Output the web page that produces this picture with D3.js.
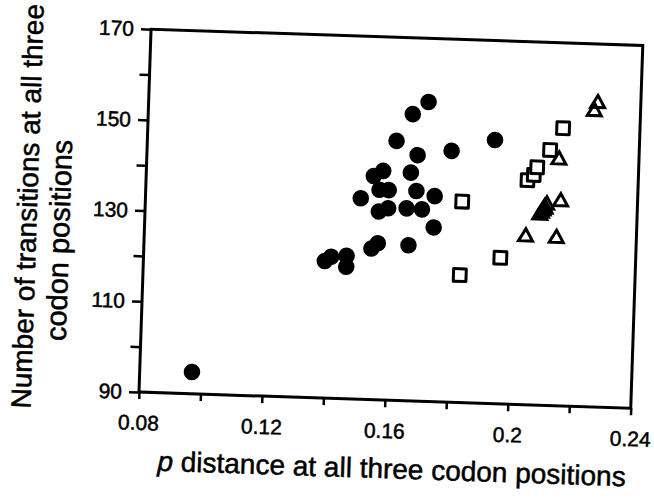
<!doctype html>
<html>
<head>
<script src="https://cdn.jsdelivr.net/npm/d3@7"></script>
<style>
  body { margin: 0; background: #fff; }
  text { font-family: Arial, "Liberation Sans", Helvetica, sans-serif; fill: #000; stroke: #000; stroke-width: 0.5px; }
</style>
</head>
<body>
<script>

// filled circles
var circleX = [0.097, 0.171, 0.166, 0.161, 0.168, 0.179, 0.193, 0.154, 0.157, 0.166,
               0.156, 0.159, 0.168, 0.174, 0.150, 0.156, 0.159, 0.165, 0.170, 0.174,
               0.154, 0.156, 0.166, 0.139, 0.141, 0.146, 0.146];
var circleY = [94.8, 156.0, 153.2, 147.2, 144.2, 145.4, 148.1, 139.3, 140.5, 140.3,
               136.3, 136.3, 136.3, 135.3, 134.3, 131.5, 132.3, 132.4, 132.3, 128.4,
               123.3, 124.5, 124.3, 120.2, 121.2, 121.5, 119.1];
// open squares
var squareX = [0.183, 0.183, 0.196, 0.204, 0.206, 0.207, 0.211, 0.215];
var squareY = [134.3, 118.1, 122.2, 139.5, 140.7, 142.4, 146.3, 151.2];
// open triangles (the dense group near 0.21 overlaps into a solid blob)
var triangleX = [0.226, 0.225, 0.214, 0.215, 0.2105, 0.2100, 0.2098, 0.2094, 0.2089, 0.2084, 0.204, 0.214];
var triangleY = [156.9, 155.1, 144.2, 135.0, 134.2, 133.3, 133.6, 132.9, 132.4, 131.9, 127.0, 126.9];

var xTicks = [0.08, 0.10, 0.12, 0.14, 0.16, 0.18, 0.20, 0.22, 0.24];
var xTickLabels = ["0.08", "0.12", "0.16", "0.2", "0.24"];
var yTicks = [90, 100, 110, 120, 130, 140, 150, 160, 170];
var yTickLabels = ["90", "110", "130", "150", "170"];

var margin = {top: 29, left: 139},
    width = 492,
    height = 363;

var svg = d3.select("body").append("svg")
    .attr("width", 654)
    .attr("height", 500);

// the scanned figure is slightly tilted
var page = svg.append("g")
    .attr("transform", "rotate(1.9," + margin.left + "," + (margin.top + height) + ")");

var g = page.append("g")
    .attr("transform", "translate(" + margin.left + "," + margin.top + ")");

var x = d3.scaleLinear().domain([0.08, 0.24]).range([0, width]);
var y = d3.scaleLinear().domain([90, 170]).range([height, 0]);

function xLabel(d) {
  var i = xTicks.indexOf(d);
  return i % 2 === 0 ? xTickLabels[i / 2] : "";
}
function yLabel(d) {
  var i = yTicks.indexOf(d);
  return i % 2 === 0 ? yTickLabels[i / 2] : "";
}

var xAxis = g.append("g")
    .attr("transform", "translate(0," + height + ")")
    .call(d3.axisBottom(x).tickValues(xTicks).tickFormat(xLabel).tickSize(7).tickPadding(16));

var yAxis = g.append("g")
    .call(d3.axisLeft(y).tickValues(yTicks).tickFormat(yLabel).tickSize(10).tickPadding(7));

[xAxis, yAxis].forEach(function(a) {
  a.select(".domain").attr("d", null);
  a.selectAll(".tick line").attr("stroke-width", 2.5);
  a.selectAll(".tick text").attr("font-size", "21px").attr("font-family", null);
});

// frame
g.append("rect")
    .attr("x", 0).attr("y", 0)
    .attr("width", width).attr("height", height)
    .attr("fill", "none")
    .attr("stroke", "#000")
    .attr("stroke-width", 3);

// circles
g.selectAll(".dot")
  .data(circleX)
  .enter().append("circle")
    .attr("class", "dot")
    .attr("cx", function(d) { return x(d); })
    .attr("cy", function(d, i) { return y(circleY[i]); })
    .attr("r", 8.3)
    .attr("fill", "#000");

// squares
g.selectAll(".sq")
  .data(squareX)
  .enter().append("path")
    .attr("class", "sq")
    .attr("d", d3.symbol().type(d3.symbolSquare).size(160))
    .attr("transform", function(d, i) { return "translate(" + x(d) + "," + y(squareY[i]) + ")"; })
    .attr("fill", "#fff")
    .attr("stroke", "#000")
    .attr("stroke-width", 3)
    .attr("stroke-linejoin", "round");

// triangles
g.selectAll(".tri")
  .data(triangleX)
  .enter().append("path")
    .attr("class", "tri")
    .attr("d", d3.symbol().type(d3.symbolTriangle).size(85))
    .attr("transform", function(d, i) { return "translate(" + x(d) + "," + y(triangleY[i]) + ")"; })
    .attr("fill", "none")
    .attr("stroke", "#000")
    .attr("stroke-width", 3);

// axis titles
var xt = g.append("text")
    .attr("x", 255)
    .attr("y", height + 78)
    .attr("text-anchor", "middle")
    .attr("font-size", "28px");
xt.append("tspan").attr("font-style", "italic").text("p");
xt.append("tspan").text(" distance at all three codon positions");

g.append("text")
    .attr("transform", "translate(" + (31 - margin.left) + "," + (210 - margin.top) + ") rotate(-90)")
    .attr("text-anchor", "middle")
    .attr("font-size", "28px")
    .text("Number of transitions at all three");

g.append("text")
    .attr("transform", "translate(" + (64 - margin.left) + "," + (243 - margin.top) + ") rotate(-90)")
    .attr("text-anchor", "middle")
    .attr("font-size", "29px")
    .text("codon positions");

</script>
</body>
</html>
